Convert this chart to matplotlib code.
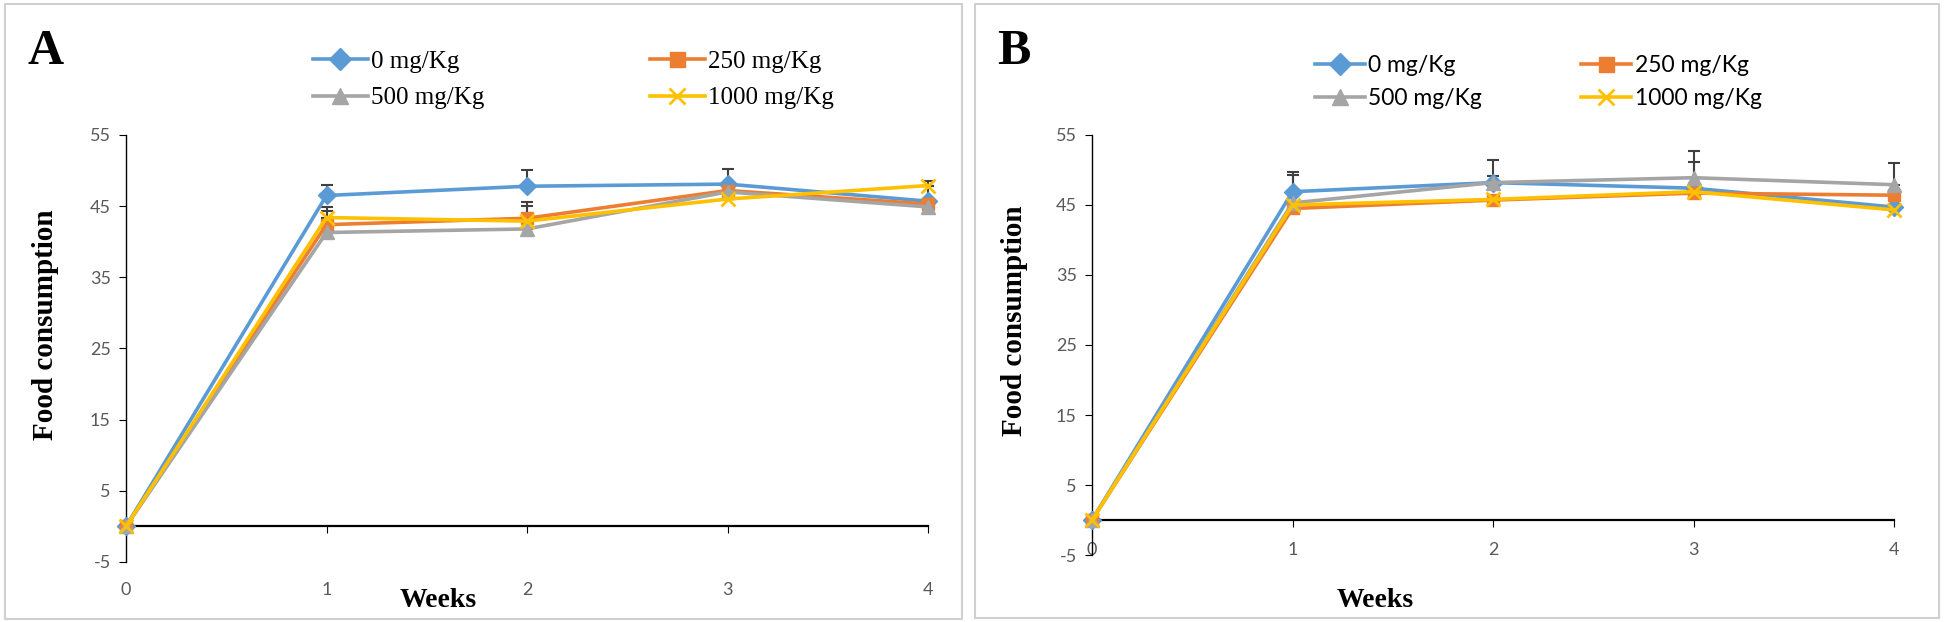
import matplotlib
matplotlib.use("Agg")
import numpy as np
import matplotlib.pyplot as plt
from matplotlib.patches import Rectangle

plt.rcParams["axes.unicode_minus"] = False

# 数据
weeks = [0, 1, 2, 3, 4]
doses = ["0 mg/Kg", "250 mg/Kg", "500 mg/Kg", "1000 mg/Kg"]

a_0 = [0, 46.5, 47.8, 48.1, 45.7]
a_250 = [0, 42.4, 43.3, 47.2, 45.3]
a_500 = [0, 41.3, 41.8, 47.0, 44.9]
a_1000 = [0, 43.4, 42.9, 46.0, 47.9]
a_err_0 = [0, 1.5, 2.3, 2.1, 2.8]
a_err_250 = [0, 2.5, 2.3, 0, 0]
a_err_500 = [0, 3.0, 3.2, 0, 0]
a_err_1000 = [0, 0, 0, 0, 0]

b_0 = [0, 46.9, 48.2, 47.4, 44.7]
b_250 = [0, 44.5, 45.7, 46.7, 46.4]
b_500 = [0, 45.3, 48.2, 48.9, 47.9]
b_1000 = [0, 45.0, 45.8, 46.9, 44.3]
b_err_0 = [0, 2.8, 0.9, 3.8, 0]
b_err_250 = [0, 0, 0, 0, 0]
b_err_500 = [0, 4.0, 3.2, 3.8, 3.1]
b_err_1000 = [0, 0, 0, 0, 0]

colors = ["#5B9BD5", "#ED7D31", "#A5A5A5", "#FFC000"]
markers = ["D", "s", "^", "x"]
msizes = [9, 9, 10, 10]

W, H = 1944, 622
fig = plt.figure(figsize=(W / 100, H / 100), dpi=100)

# 外框
fig.add_artist(Rectangle((5 / W, 3 / H), 957 / W, 615 / H, transform=fig.transFigure,
                         fill=False, edgecolor="#D0D0D0", lw=1.5))
fig.add_artist(Rectangle((975 / W, 4 / H), 964 / W, 614 / H, transform=fig.transFigure,
                         fill=False, edgecolor="#D0D0D0", lw=1.5))


def draw_panel(ax, series, errs, xpad, leg_font, leg_anchor, colspace):
    handles = []
    for vals, err, c, m, ms, lab in zip(series, errs, colors, markers, msizes, doses):
        lower = np.zeros(len(err))
        ax.errorbar(weeks, vals, yerr=[lower, err], fmt="none", ecolor="#404040",
                    elinewidth=1.5, capsize=4, capthick=1.5, zorder=2, clip_on=False)
        h, = ax.plot(weeks, vals, color=c, marker=m, markersize=ms, lw=2.6,
                     mew=2 if m == "x" else 1, label=lab, zorder=3, clip_on=False)
        handles.append(h)

    ax.set_xlim(0, 4)
    ax.set_ylim(-5, 55)
    ax.set_yticks(np.arange(-5, 56, 10))
    ax.set_xticks(weeks)
    ax.spines["top"].set_visible(False)
    ax.spines["right"].set_visible(False)
    ax.spines["bottom"].set_position(("data", 0))
    ax.spines["bottom"].set_linewidth(1.6)
    ax.spines["left"].set_linewidth(1.0)
    ax.tick_params(axis="y", direction="out", length=5, labelsize=13,
                   labelcolor="#595959", pad=6)
    ax.tick_params(axis="x", direction="out", length=5, labelsize=13,
                   labelcolor="#595959", pad=xpad)
    for t in ax.get_xticklabels() + ax.get_yticklabels():
        t.set_fontfamily("Lato")

    ax.set_ylabel("Food consumption", fontfamily="Liberation Serif", fontweight="bold",
                  fontsize=21)
    ax.set_xlabel("Weeks", fontfamily="Liberation Serif", fontweight="bold",
                  fontsize=20)

    # Excel 图例按行排列: 0 | 250 / 500 | 1000
    order = [0, 2, 1, 3]
    fig.legend(handles=[handles[i] for i in order], labels=[doses[i] for i in order],
               ncol=2, loc="upper left", bbox_to_anchor=leg_anchor, frameon=False,
               prop=leg_font, handlelength=2.2, handletextpad=0.15,
               columnspacing=colspace, labelspacing=0.55, numpoints=1,
               markerscale=1.2)


ax_a = fig.add_axes([126 / W, 1 - 562 / H, 802 / W, 427 / H])
draw_panel(ax_a, [a_0, a_250, a_500, a_1000],
           [a_err_0, a_err_250, a_err_500, a_err_1000], 35,
           {"family": "Liberation Serif", "size": 18}, (290 / W, 1 - 28 / H), 6.6)
ax_a.xaxis.set_label_coords(0.389, -0.06)
ax_a.yaxis.set_label_coords(-0.083, 0.555)
fig.text(27 / W, 1 - 52 / H, "A", fontfamily="Liberation Serif", fontweight="bold",
         fontsize=36, va="center", ha="left")

ax_b = fig.add_axes([1092 / W, 1 - 555 / H, 802 / W, 420 / H])
draw_panel(ax_b, [b_0, b_250, b_500, b_1000],
           [b_err_0, b_err_250, b_err_500, b_err_1000], 11,
           {"family": "Lato", "size": 16.5}, (1294 / W, 1 - 34 / H), 4.3)
ax_b.xaxis.set_label_coords(0.353, -0.078)
ax_b.yaxis.set_label_coords(-0.08, 0.557)
fig.text(997 / W, 1 - 52 / H, "B", fontfamily="Liberation Serif", fontweight="bold",
         fontsize=36, va="center", ha="left")

fig.savefig("out.png", dpi=100)
